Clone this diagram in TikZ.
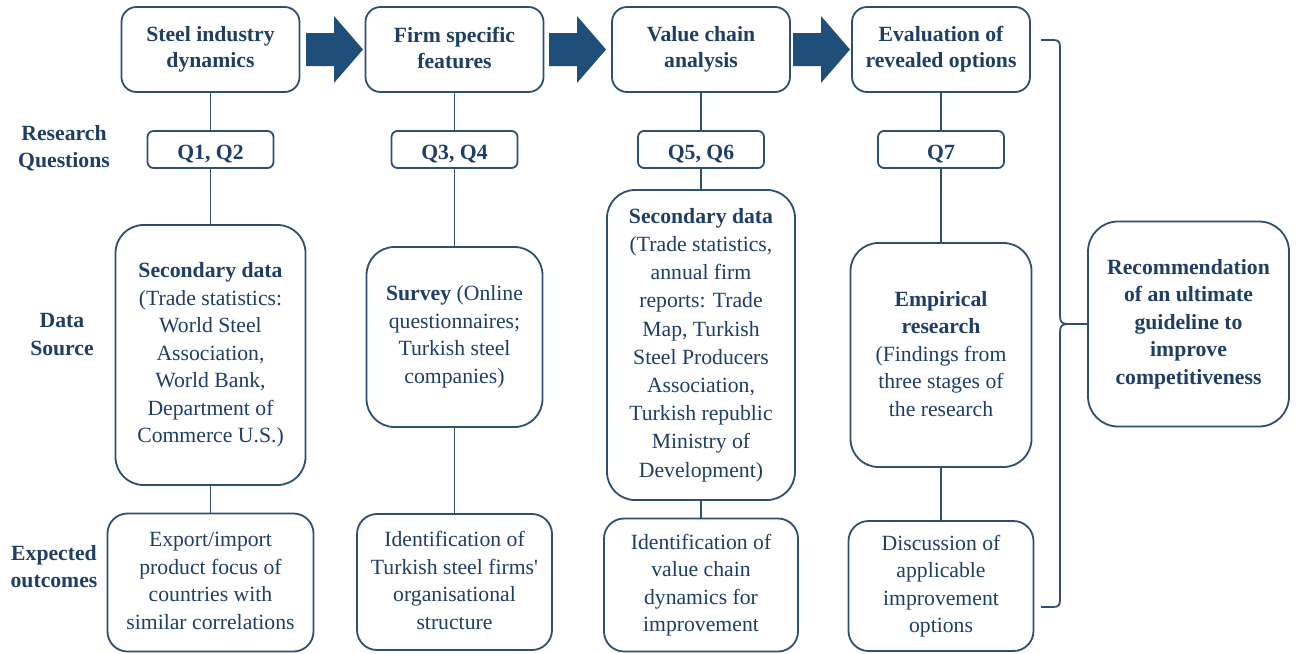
\documentclass[tikz,border=0pt]{standalone}
\usepackage{fontspec}
\setmainfont{Liberation Serif}
\definecolor{ink}{RGB}{31,62,102}
\definecolor{edge}{RGB}{47,79,112}
\definecolor{arrowfill}{RGB}{31,78,121}
\newcommand\bodysize{\fontsize{21.7}{27.5}\selectfont}
% line box with a fixed ascent and descent, so every block is centred the same way
\newcommand\linestrut{\rule[-3pt]{0pt}{26.5pt}}
\begin{document}
\begin{tikzpicture}[x=1pt,y=-1pt,
  every node/.style={font=\bodysize, text=ink, align=center, inner sep=0pt,
    execute at begin node=\linestrut, execute at end node=\linestrut},
  box/.style={draw=edge, line width=1.8pt, fill=white},
  stagebox/.style={box, rounded corners=15pt, minimum width=178pt, minimum height=85pt,
    font=\fontsize{21.7}{26}\selectfont\bfseries},
  qbox/.style={box, rounded corners=6pt, minimum width=126pt, minimum height=37pt,
    font=\bodysize\bfseries},
  databox/.style={box, rounded corners=28pt},
  outbox/.style={box, rounded corners=20pt},
  rowlabel/.style={font=\bodysize\bfseries},
  link/.style={draw=edge, line width=1.5pt},
  fatarrow/.pic={\fill[arrowfill] (0,-16.5) -- (28,-16.5) -- (28,-33.5) -- (57,0)
      -- (28,33.5) -- (28,16.5) -- (0,16.5) -- cycle;}
]
\useasboundingbox (0,0) rectangle (1297,653);

% stage headings
\node[stagebox] (t1) at (210.5,49.5) {Steel industry\\dynamics};
\node[stagebox] (t2) at (454.5,49.5) {Firm specific\\features};
\node[stagebox] (t3) at (701,49.5) {Value chain\\analysis};
\node[stagebox] (t4) at (941,49.5) {Evaluation of\\revealed options};

% block arrows between the stages
\pic at (306,49.5) {fatarrow};
\pic at (549,49.5) {fatarrow};
\pic at (793,49.5) {fatarrow};

% row labels
\node[rowlabel] (lq) at (64,148) {Research\\Questions};
\node[rowlabel] (ld) at (62,336) {Data\\Source};
\node[rowlabel] (lo) at (54,568) {Expected\\outcomes};

% research questions
\node[qbox] (q1) at (210.5,149.5) {Q1, Q2};
\node[qbox] (q2) at (454.5,149.5) {Q3, Q4};
\node[qbox] (q3) at (701,149.5) {Q5, Q6};
\node[qbox] (q4) at (941,149.5) {Q7};

% data sources
\node[databox, minimum width=190pt, minimum height=260pt] (d1) at (210.5,355)
  {\textbf{Secondary data}\\(Trade statistics:\\World Steel\\Association,\\World Bank,\\Department of\\Commerce U.S.)};
\node[databox, minimum width=176pt, minimum height=180pt] (d2) at (454.5,337)
  {\textbf{Survey} (Online\\questionnaires;\\Turkish steel\\companies)};
\node[databox, minimum width=188pt, minimum height=310pt, font=\fontsize{21.7}{28.2}\selectfont] (d3) at (701,345)
  {\textbf{Secondary data}\\(Trade statistics,\\annual firm\\reports: Trade\\Map, Turkish\\Steel Producers\\Association,\\Turkish republic\\Ministry of\\Development)};
\node[databox, minimum width=181pt, minimum height=224pt] (d4) at (941,355)
  {\textbf{Empirical}\\\textbf{research}\\(Findings from\\three stages of\\the research};

% expected outcomes
\node[outbox, minimum width=206pt, minimum height=138pt] (o1) at (210.5,582.5)
  {Export/import\\product focus of\\countries with\\similar correlations};
\node[outbox, minimum width=195pt, minimum height=136pt] (o2) at (454.5,582)
  {Identification of\\Turkish steel firms\textquotesingle\\organisational\\structure};
\node[outbox, minimum width=194pt, minimum height=133pt] (o3) at (701,585)
  {Identification of\\value chain\\dynamics for\\improvement};
\node[outbox, minimum width=185pt, minimum height=130pt] (o4) at (941,586)
  {Discussion of\\applicable\\improvement\\options};

% final recommendation
\node[box, rounded corners=30pt, minimum width=201pt, minimum height=205pt, font=\bodysize\bfseries] (rec) at (1188.5,324)
  {Recommendation\\of an ultimate\\guideline to\\improve\\competitiveness};

% vertical links in each column
\foreach \c in {1,2,3,4}{
  \draw[link] (t\c) -- (q\c);
  \draw[link] (q\c) -- (d\c);
  \draw[link] (d\c) -- (o\c);
}

% brace gathering the stages into the recommendation
\coordinate (brtop) at (1041,40);
\coordinate (brbot) at (1041,607);
\coordinate (brtip) at (1068,324);
\draw[link, line width=1.8pt] (brtop) -- (1053,40) .. controls (1059,40) and (1060,42) .. (1060,48)
  -- (1060,316) .. controls (1060,322) and (1062,324) .. (brtip) -- (rec.west);
\draw[link, line width=1.8pt] (brtip) .. controls (1062,324) and (1060,326) .. (1060,332)
  -- (1060,599) .. controls (1060,605) and (1059,607) .. (1053,607) -- (brbot);
\end{tikzpicture}
\end{document}
